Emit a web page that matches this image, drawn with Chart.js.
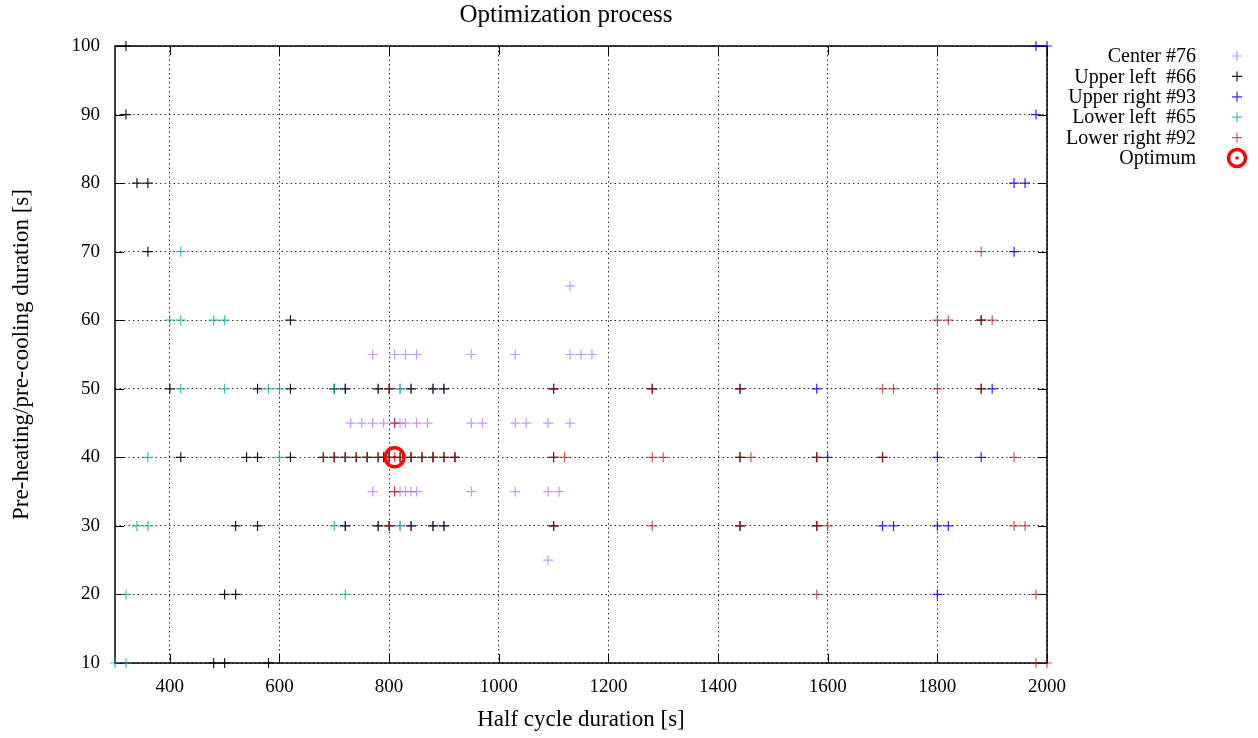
<!DOCTYPE html>
<html>
<head>
<meta charset="utf-8">
<script src="https://cdn.jsdelivr.net/npm/chart.js@4.4.1/dist/chart.umd.min.js"></script>
<style>
  body { margin: 0; background: #fff; }
  #wrap { width: 1258px; height: 738px; }
</style>
</head>
<body>
<div id="wrap"><canvas id="myChart" width="1258" height="738"></canvas></div>
<script>
// half cycle duration [s] / pre-heating duration [s] per series
const centerX = [1130, 770, 810, 830, 850, 950, 1030, 1130, 1150, 1170,
  720, 780, 820, 840, 880, 900, 1100,
  730, 750, 770, 790, 810, 820, 830, 850, 870, 950, 970, 1030, 1050, 1090, 1130,
  700, 720, 760, 800, 840, 880, 920,
  770, 810, 820, 830, 840, 850, 950, 1030, 1090, 1110,
  720, 780, 820, 840, 880, 900, 1100, 1090]
const centerY = [65, 55, 55, 55, 55, 55, 55, 55, 55, 55,
  50, 50, 50, 50, 50, 50, 50,
  45, 45, 45, 45, 45, 45, 45, 45, 45, 45, 45, 45, 45, 45, 45,
  40, 40, 40, 40, 40, 40, 40,
  35, 35, 35, 35, 35, 35, 35, 35, 35, 35,
  30, 30, 30, 30, 30, 30, 30, 25]

const upperLeftX = [320, 320, 340, 360, 360, 620, 1880,
  400, 560, 620, 700, 720, 780, 800, 840, 880, 900, 1100, 1280, 1440, 1880,
  420, 540, 560, 620, 680, 700, 720, 740, 760, 780, 790, 800, 820, 840, 860, 880, 900, 920, 1100, 1440, 1580, 1700,
  520, 560, 720, 780, 800, 840, 880, 900, 1100, 1440, 1580,
  500, 520, 480, 500, 580]
const upperLeftY = [100, 90, 80, 80, 70, 60, 60,
  50, 50, 50, 50, 50, 50, 50, 50, 50, 50, 50, 50, 50, 50,
  40, 40, 40, 40, 40, 40, 40, 40, 40, 40, 40, 40, 40, 40, 40, 40, 40, 40, 40, 40, 40, 40,
  30, 30, 30, 30, 30, 30, 30, 30, 30, 30, 30,
  20, 20, 10, 10, 10]

const upperRightX = [1980, 2000, 1980, 1940, 1960, 1940, 1580, 1900, 1600, 1800, 1880, 1700, 1720, 1800, 1820, 1800]
const upperRightY = [100, 100, 90, 80, 80, 70, 50, 50, 40, 40, 40, 30, 30, 30, 30, 20]

const lowerLeftX = [420, 400, 420, 480, 500, 420, 500, 580, 600, 700, 820, 360, 600, 340, 360, 700, 820, 320, 720, 300, 320]
const lowerLeftY = [70, 60, 60, 60, 60, 50, 50, 50, 50, 50, 50, 40, 40, 30, 30, 30, 30, 20, 20, 10, 10]

const lowerRightX = [1880, 1800, 1820, 1880, 1900,
  800, 1100, 1280, 1440, 1700, 1720, 1800, 1880, 810,
  680, 700, 720, 740, 760, 780, 800, 810, 820, 840, 860, 880, 900, 920, 1100, 1120, 1280, 1300, 1440, 1460, 1580, 1700, 1940,
  810, 800, 1100, 1280, 1440, 1580, 1600, 1940, 1960,
  1580, 1980, 1980, 2000]
const lowerRightY = [70, 60, 60, 60, 60,
  50, 50, 50, 50, 50, 50, 50, 50, 45,
  40, 40, 40, 40, 40, 40, 40, 40, 40, 40, 40, 40, 40, 40, 40, 40, 40, 40, 40, 40, 40, 40, 40,
  35, 30, 30, 30, 30, 30, 30, 30, 30,
  20, 20, 10, 10]

const optimumX = [810]
const optimumY = [40]

const seriesLabels = ['Center #76', 'Upper left  #66', 'Upper right #93', 'Lower left  #65', 'Lower right #92', 'Optimum']
const xTicks = [400, 600, 800, 1000, 1200, 1400, 1600, 1800, 2000]

const serif = 'Liberation Serif, Times New Roman, serif'
const zip = (xs, ys) => xs.map((x, i) => ({ x: x, y: ys[i] }))

const crossSet = (label, xs, ys, color, order) => ({
    label: label,
    data: zip(xs, ys),
    pointStyle: 'cross',
    pointRadius: 5,
    pointBorderWidth: 1.2,
    borderColor: color,
    backgroundColor: color,
    showLine: false,
    clip: false,
    order: order
})

const datasets = [
    crossSet(seriesLabels[0], centerX, centerY, 'rgba(150,70,255,0.55)', 5),
    crossSet(seriesLabels[1], upperLeftX, upperLeftY, 'rgba(0,0,0,0.9)', 4),
    crossSet(seriesLabels[2], upperRightX, upperRightY, 'rgba(0,0,255,0.85)', 3),
    crossSet(seriesLabels[3], lowerLeftX, lowerLeftY, 'rgba(0,165,155,0.75)', 2),
    crossSet(seriesLabels[4], lowerRightX, lowerRightY, 'rgba(175,20,20,0.7)', 1),
    {
        label: seriesLabels[5],
        data: zip(optimumX, optimumY),
        pointStyle: 'circle',
        pointRadius: 9.5,
        pointBorderWidth: 3.5,
        borderColor: 'rgb(255,0,0)',
        backgroundColor: 'rgba(0,0,0,0)',
        showLine: false,
        clip: false,
        order: 0
    },
    {
        label: '',
        data: zip(optimumX, optimumY),
        pointStyle: 'circle',
        pointRadius: 1.6,
        pointBorderWidth: 0,
        backgroundColor: 'rgb(255,0,0)',
        showLine: false,
        order: 0
    }
]

// frame, inward tick marks, title and gnuplot-style key
const gnuplotLook = {
    id: 'gnuplotLook',
    beforeDatasetsDraw(chart) {
        const { ctx, chartArea: a, scales } = chart
        ctx.save()
        ctx.strokeStyle = '#000'
        ctx.lineWidth = 1.5
        ctx.setLineDash([])
        ctx.strokeRect(a.left, a.top, a.right - a.left, a.bottom - a.top)
        ctx.lineWidth = 1
        ctx.beginPath()
        scales.x.ticks.forEach(t => {
            const px = Math.round(scales.x.getPixelForValue(t.value)) + 0.5
            ctx.moveTo(px, a.bottom); ctx.lineTo(px, a.bottom - 9)
            ctx.moveTo(px, a.top); ctx.lineTo(px, a.top + 9)
        })
        scales.y.ticks.forEach(t => {
            const py = Math.round(scales.y.getPixelForValue(t.value)) + 0.5
            ctx.moveTo(a.left, py); ctx.lineTo(a.left + 9, py)
            ctx.moveTo(a.right, py); ctx.lineTo(a.right - 9, py)
        })
        ctx.stroke()
        ctx.restore()
    },
    afterDraw(chart) {
        const { ctx } = chart
        ctx.save()
        ctx.fillStyle = '#000'
        ctx.font = '25px ' + serif
        ctx.textBaseline = 'middle'
        ctx.textAlign = 'center'
        ctx.fillText('Optimization process', 566, 15)

        ctx.font = '20px ' + serif
        ctx.textAlign = 'right'
        seriesLabels.forEach((label, i) => {
            const y = 56 + i * 20.4
            ctx.fillStyle = '#000'
            ctx.fillText(label, 1196, y + 1)
            const ds = chart.data.datasets[i]
            ctx.strokeStyle = ds.borderColor
            ctx.lineWidth = i === 5 ? 3.5 : 1.2
            ctx.beginPath()
            if (i === 5) {
                ctx.arc(1237, y, 8.5, 0, Math.PI * 2)
                ctx.stroke()
                ctx.fillStyle = 'rgb(255,0,0)'
                ctx.beginPath()
                ctx.arc(1237, y, 1.8, 0, Math.PI * 2)
                ctx.fill()
            } else {
                ctx.moveTo(1232, y); ctx.lineTo(1242, y)
                ctx.moveTo(1237, y - 5); ctx.lineTo(1237, y + 5)
                ctx.stroke()
            }
        })
        ctx.restore()
    }
}

const ctx = document.getElementById('myChart').getContext('2d')
new Chart(ctx, {
    type: 'scatter',
    data: { datasets },
    options: {
        responsive: false,
        animation: false,
        events: [],
        layout: { padding: { top: 46, right: 211, left: 0, bottom: 0 } },
        plugins: {
            legend: { display: false },
            tooltip: { enabled: false },
            title: { display: false }
        },
        scales: {
            x: {
                type: 'linear',
                min: 300,
                max: 2000,
                afterBuildTicks: scale => { scale.ticks = xTicks.map(v => ({ value: v })) },
                afterFit: scale => { scale.height = 75 },
                grid: { color: 'rgba(0,0,0,0.8)', lineWidth: 1, drawTicks: false },
                border: { display: false, dash: [1.5, 3] },
                ticks: {
                    color: '#000',
                    padding: 13,
                    maxRotation: 0,
                    callback: v => String(v),
                    font: { family: serif, size: 19 }
                },
                title: {
                    display: true,
                    text: 'Half cycle duration [s]',
                    color: '#000',
                    padding: { top: 0, bottom: 4 },
                    font: { family: serif, size: 23 }
                }
            },
            y: {
                type: 'linear',
                min: 10,
                max: 100,
                ticks: {
                    stepSize: 10,
                    color: '#000',
                    padding: 15,
                    callback: v => String(v),
                    font: { family: serif, size: 19 }
                },
                afterFit: scale => { scale.width = 115 },
                grid: { color: 'rgba(0,0,0,0.8)', lineWidth: 1, drawTicks: false },
                border: { display: false, dash: [1.5, 3] },
                title: {
                    display: true,
                    text: 'Pre-heating/pre-cooling duration [s]',
                    color: '#000',
                    padding: { top: 8, bottom: 0 },
                    font: { family: serif, size: 23 }
                }
            }
        }
    },
    plugins: [gnuplotLook]
})
</script>
</body>
</html>
